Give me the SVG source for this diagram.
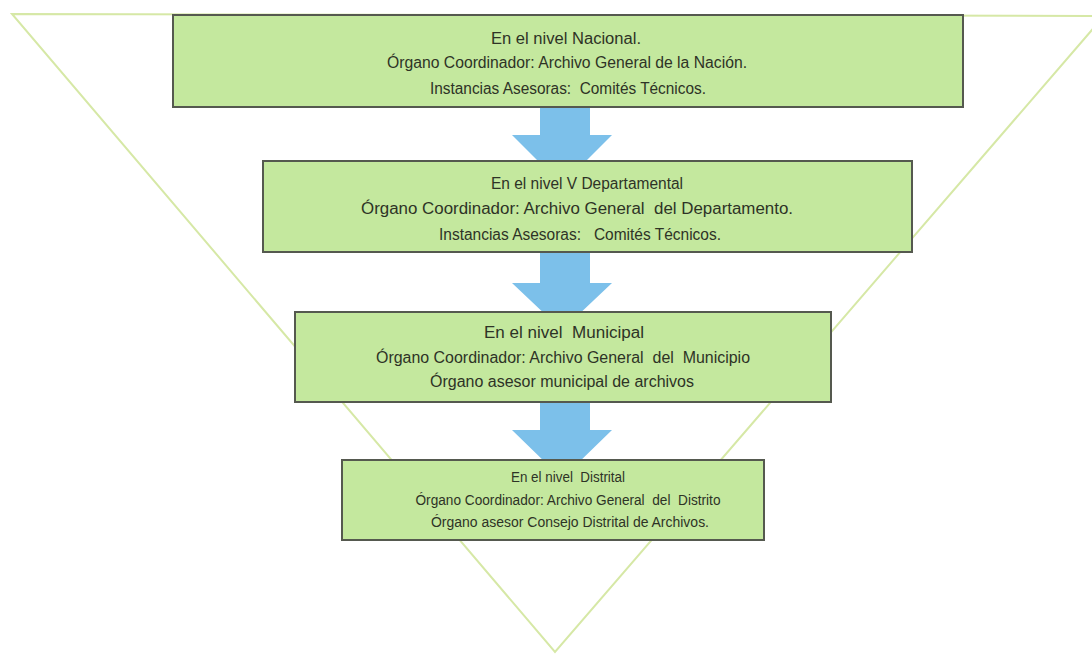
<svg xmlns="http://www.w3.org/2000/svg" width="1092" height="655" viewBox="0 0 1092 655">
<style>
.bg{fill:#ffffff}
.tri{fill:none;stroke:#d6e8a6;stroke-width:2}
.box{fill:#c4e89e;stroke:#55594f;stroke-width:2}
.arr{fill:#7cc0ea}
text{font-family:"Liberation Sans",Arial,sans-serif;fill:#2e3326;text-anchor:middle;white-space:pre}
.t{font-size:16px}
.s{font-size:14px}
</style>
<rect class="bg" x="0" y="0" width="1092" height="655"/>
<polygon class="tri" points="12,14 1104,16 555,652"/>
<g id="connectors">
<polygon class="arr" points="540,106 590,106 590,135 612,135 575,172 549,172 512,135 540,135"/>
<polygon class="arr" points="540,252 590,252 590,283 612,283 575,318 549,318 512,283 540,283"/>
<polygon class="arr" points="540,402 590,402 590,430 612,430 575,466 549,466 512,430 540,430"/>
</g>
<g id="n1">
<rect class="box" x="173" y="15" width="790" height="92"/>
<text class="t" x="566" y="44" textLength="150" lengthAdjust="spacingAndGlyphs">En el nivel Nacional.</text>
<text class="t" x="567" y="68" textLength="360" lengthAdjust="spacingAndGlyphs">Órgano Coordinador: Archivo General de la Nación.</text>
<text class="t" x="568" y="94" textLength="276" lengthAdjust="spacingAndGlyphs">Instancias Asesoras:  Comités Técnicos.</text>
</g>
<g id="n2">
<rect class="box" x="263" y="161" width="649" height="91"/>
<text class="t" x="587" y="189" textLength="192" lengthAdjust="spacingAndGlyphs">En el nivel V Departamental</text>
<text class="t" x="577" y="214" textLength="432" lengthAdjust="spacingAndGlyphs">Órgano Coordinador: Archivo General  del Departamento.</text>
<text class="t" x="580" y="240" textLength="282" lengthAdjust="spacingAndGlyphs">Instancias Asesoras:   Comités Técnicos.</text>
</g>
<g id="n3">
<rect class="box" x="295" y="312" width="536" height="90"/>
<text class="t" x="564" y="338" textLength="160" lengthAdjust="spacingAndGlyphs">En el nivel  Municipal</text>
<text class="t" x="563" y="363" textLength="374" lengthAdjust="spacingAndGlyphs">Órgano Coordinador: Archivo General  del  Municipio</text>
<text class="t" x="562" y="387" textLength="264" lengthAdjust="spacingAndGlyphs">Órgano asesor municipal de archivos</text>
</g>
<g id="n4">
<rect class="box" x="342" y="460" width="422" height="80"/>
<text class="s" x="568" y="482" textLength="114" lengthAdjust="spacingAndGlyphs">En el nivel  Distrital</text>
<text class="s" x="568" y="505" textLength="305" lengthAdjust="spacingAndGlyphs">Órgano Coordinador: Archivo General  del  Distrito</text>
<text class="s" x="570" y="527" textLength="278" lengthAdjust="spacingAndGlyphs">Órgano asesor Consejo Distrital de Archivos.</text>
</g>
</svg>
